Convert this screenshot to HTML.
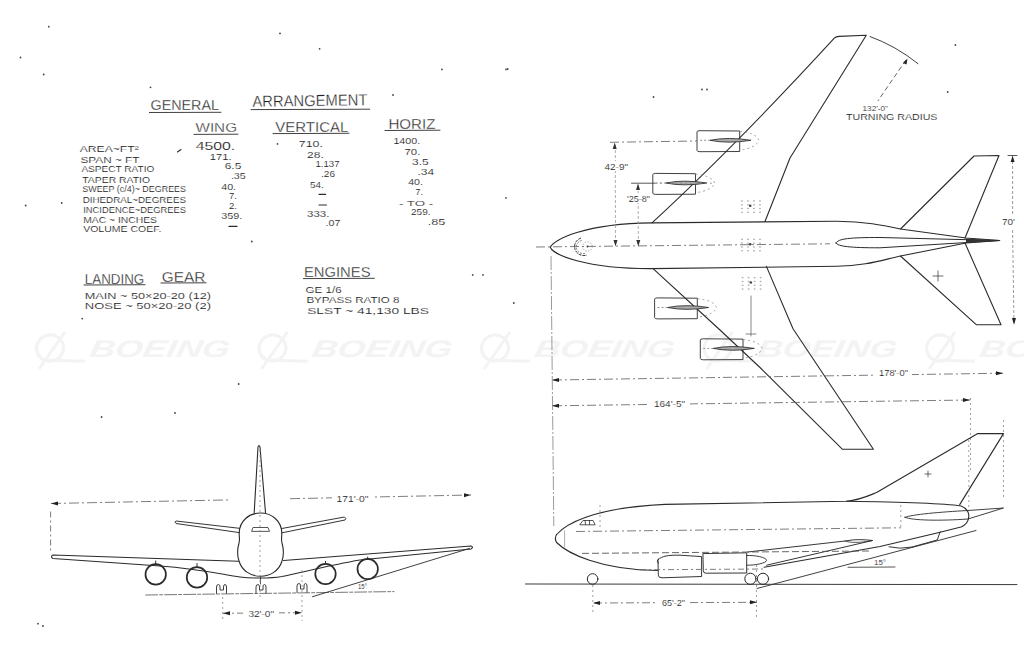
<!DOCTYPE html>
<html><head><meta charset="utf-8"><title>General Arrangement</title>
<style>
html,body{margin:0;padding:0;background:#fff;width:1024px;height:662px;overflow:hidden}
svg{display:block}
text{font-family:"Liberation Sans",sans-serif;fill:#222;stroke:#fff;stroke-width:0.12;paint-order:fill}
.ln{fill:none;stroke:#2b2b2b;stroke-width:1.1;stroke-linecap:round;stroke-linejoin:round}
.dd{fill:none;stroke:#666;stroke-width:0.85;stroke-dasharray:9 3 2 3}
.ds{fill:none;stroke:#555;stroke-width:0.9;stroke-dasharray:5 3}
.dt{fill:none;stroke:#888;stroke-width:0.8;stroke-dasharray:2 3}
.wm{fill:#f1f1f1}
</style></head>
<body>
<svg width="1024" height="662" viewBox="0 0 1024 662">
<rect width="1024" height="662" fill="#fff"/>

<!-- ============ WATERMARKS ============ -->
<defs>
<g id="blogo">
<ellipse cx="15" cy="17" rx="13.5" ry="13" fill="none" stroke="#f3f3f3" stroke-width="3.2" transform="rotate(-20 15 17)"/>
<path d="M30,1 L4,38" stroke="#f3f3f3" stroke-width="3" fill="none"/>
<path d="M14,29 Q30,30 50,30" stroke="#f3f3f3" stroke-width="3" fill="none"/>
<text x="58" y="26" font-family="Liberation Sans" font-weight="bold" font-style="italic" font-size="24" textLength="140" lengthAdjust="spacingAndGlyphs" style="fill:#f3f3f3" transform="skewX(-10)" >BOEING</text>
</g>
</defs>
<g id="wms">
<use href="#blogo" x="35" y="331"/>
<use href="#blogo" x="257.5" y="331"/>
<use href="#blogo" x="480" y="331"/>
<use href="#blogo" x="702.5" y="331"/>
<use href="#blogo" x="925" y="331"/>
</g>


<!-- ============ TEXT BLOCK ============ -->
<g id="txt">
<text style="stroke-width:0.3" x="150.5" y="110" font-size="15.4" textLength="68.5" lengthAdjust="spacingAndGlyphs">GENERAL</text>
<line class="ln" x1="149.4" y1="112.5" x2="221" y2="112.3" style="stroke-width:0.9"/>
<text style="stroke-width:0.3" x="252.5" y="107" font-size="16" textLength="115" transform="rotate(-0.9 252.5 107)" lengthAdjust="spacingAndGlyphs">ARRANGEMENT</text>
<line class="ln" x1="251" y1="109.6" x2="369.7" y2="109.2" style="stroke-width:0.9"/>
<text style="stroke-width:0.3" x="195.5" y="131.9" font-size="13.3" textLength="41.5" lengthAdjust="spacingAndGlyphs">WING</text>
<line class="ln" x1="194" y1="134.4" x2="238" y2="134.2" style="stroke-width:0.9"/>
<text style="stroke-width:0.3" x="275.3" y="131.5" font-size="15" textLength="73" lengthAdjust="spacingAndGlyphs">VERTICAL</text>
<line class="ln" x1="273" y1="133.6" x2="349" y2="133.3" style="stroke-width:0.9"/>
<text style="stroke-width:0.3" x="388.4" y="128.75" font-size="14.5" textLength="47" lengthAdjust="spacingAndGlyphs">HORIZ</text>
<line class="ln" x1="385" y1="130.5" x2="440" y2="130.2" style="stroke-width:0.9"/>

<g font-size="8.4">
<text x="79.7" y="152.2" textLength="59" lengthAdjust="spacingAndGlyphs">AREA~FT²</text>
<text x="80.5" y="162.8" textLength="59" lengthAdjust="spacingAndGlyphs">SPAN ~ FT</text>
<text x="81.4" y="172.3" textLength="73" lengthAdjust="spacingAndGlyphs">ASPECT  RATIO</text>
<text x="82.3" y="182.5" textLength="67.7" lengthAdjust="spacingAndGlyphs">TAPER  RATIO</text>
<text x="82.3" y="192.1" textLength="103.7" lengthAdjust="spacingAndGlyphs">SWEEP (c/4)~ DEGREES</text>
<text x="82.7" y="202.7" textLength="103.3" lengthAdjust="spacingAndGlyphs">DIHEDRAL~DEGREES</text>
<text x="83.2" y="213.2" textLength="102.8" lengthAdjust="spacingAndGlyphs">INCIDENCE~DEGREES</text>
<text x="83.2" y="222.9" textLength="73.8" lengthAdjust="spacingAndGlyphs">MAC  ~ INCHES</text>
<text x="83.2" y="232.2" textLength="78.2" lengthAdjust="spacingAndGlyphs">VOLUME  COEF.</text>
</g>
<g font-size="9.1">
<text x="195.7" y="150" font-size="10" textLength="39.6" lengthAdjust="spacingAndGlyphs">4500.</text>
<text x="209.8" y="159.6" textLength="21.9" lengthAdjust="spacingAndGlyphs">171.</text>
<text x="224.7" y="169.3" textLength="16.7" lengthAdjust="spacingAndGlyphs">6.5</text>
<text x="230.9" y="179" textLength="14.9" lengthAdjust="spacingAndGlyphs">.35</text>
<text x="221.2" y="189.5" textLength="14.9" lengthAdjust="spacingAndGlyphs">40.</text>
<text x="229" y="199.2" textLength="8" lengthAdjust="spacingAndGlyphs">7.</text>
<text x="229" y="208.8" textLength="8" lengthAdjust="spacingAndGlyphs">2.</text>
<text x="221.2" y="219.4" textLength="21.1" lengthAdjust="spacingAndGlyphs">359.</text>
<line class="ln" x1="229" y1="226.4" x2="237" y2="226.4"/>

<text x="298.8" y="147" textLength="24.1" lengthAdjust="spacingAndGlyphs">710.</text>
<text x="307.1" y="157.6" textLength="16.7" lengthAdjust="spacingAndGlyphs">28.</text>
<text x="315.4" y="166.9" textLength="24.2" lengthAdjust="spacingAndGlyphs">1.137</text>
<text x="321" y="176.7" textLength="14" lengthAdjust="spacingAndGlyphs">.26</text>
<text x="310" y="187.9" textLength="13.8" lengthAdjust="spacingAndGlyphs">54.</text>
<line class="ln" x1="319" y1="194.4" x2="325.6" y2="194.4"/>
<line class="ln" x1="319" y1="205" x2="326.5" y2="205"/>
<text x="307.1" y="216.6" textLength="22.3" lengthAdjust="spacingAndGlyphs">333.</text>
<text x="325.6" y="225.9" textLength="14.9" lengthAdjust="spacingAndGlyphs">.07</text>

<text x="393.4" y="144.3" textLength="26.9" lengthAdjust="spacingAndGlyphs">1400.</text>
<text x="404.5" y="154.5" textLength="15.8" lengthAdjust="spacingAndGlyphs">70.</text>
<text x="412" y="164.7" textLength="16.6" lengthAdjust="spacingAndGlyphs">3.5</text>
<text x="417.5" y="174.9" textLength="16.7" lengthAdjust="spacingAndGlyphs">.34</text>
<text x="408.2" y="185" textLength="14.8" lengthAdjust="spacingAndGlyphs">40.</text>
<text x="415.6" y="195.3" textLength="7.4" lengthAdjust="spacingAndGlyphs">7.</text>
<text x="398.9" y="205.5" font-size="8" textLength="34.3" lengthAdjust="spacingAndGlyphs">-  TO -</text>
<text x="411" y="214.8" textLength="19.5" lengthAdjust="spacingAndGlyphs">259.</text>
<text x="427.7" y="225" textLength="17.6" lengthAdjust="spacingAndGlyphs">.85</text>
</g>
<line class="ln" x1="177.5" y1="152" x2="181" y2="149.5"/>

<text style="stroke-width:0.3" x="84.8" y="283.8" font-size="15" textLength="59.4" lengthAdjust="spacingAndGlyphs">LANDING</text>
<line class="ln" x1="84" y1="285" x2="145" y2="284.7" style="stroke-width:0.9"/>
<text style="stroke-width:0.3" x="161.8" y="281.9" font-size="15" textLength="43.6" lengthAdjust="spacingAndGlyphs">GEAR</text>
<line class="ln" x1="161" y1="283" x2="206" y2="282.8" style="stroke-width:0.9"/>
<g font-size="9">
<text x="84.8" y="298.6" textLength="126.2" lengthAdjust="spacingAndGlyphs">MAIN  ~  50×20-20  (12)</text>
<text x="84.8" y="308.8" textLength="126.2" lengthAdjust="spacingAndGlyphs">NOSE  ~  50×20-20   (2)</text>
</g>
<text style="stroke-width:0.3" x="304" y="276.9" font-size="15" textLength="66.5" lengthAdjust="spacingAndGlyphs">ENGINES</text>
<line class="ln" x1="303.3" y1="278.6" x2="374.4" y2="278.3" style="stroke-width:0.9"/>
<g font-size="9">
<text x="305.6" y="293.3" textLength="36" lengthAdjust="spacingAndGlyphs">GE  1/6</text>
<text x="306.4" y="302.7" textLength="93" lengthAdjust="spacingAndGlyphs">BYPASS  RATIO  8</text>
<text x="307.2" y="313.6" textLength="121.8" lengthAdjust="spacingAndGlyphs">SLST  ~  41,130   LBS</text>
</g>
</g>


<!-- ============ PLAN VIEW ============ -->
<g id="plan">
<!-- fuselage -->
<path class="ln" d="M550.3,247.3 C553,240 585,223.5 651.3,222.9 L837,221.2 C865,221.5 882,225 900.5,229 L966,238 L999.8,240.5 L966,243 L900.5,256 C882,260 865,266 837,266.3 L651.3,268.6 C585,268.8 553,254.5 550.3,247.3 Z"/>
<!-- top wing -->
<path class="ln" d="M652,222.8 Q734.7,146.7 834.3,38.2 Q836,36.5 839,36.4 L866.3,35.2 L790,158 L765,221.5"/>
<!-- bottom wing -->
<path class="ln" d="M652.8,268.3 L720,330 L760,367.5 L842.5,449.3 L873.4,449.3 L793,328.7 L766.4,266.4"/>
<!-- top h-tail -->
<path class="ln" d="M900.5,229 L974,156 L999,155.5 L965,238"/>
<!-- bottom h-tail -->
<path class="ln" d="M900.5,256 L976.5,324.8 L1001,324.8 L965,243"/>
<!-- fin plan -->
<path class="ln" d="M836,243 C838,238.5 850,237.5 880,237.5 L999.8,240.5 L880,247.8 C850,247.8 838,246.5 836,243 Z" style="stroke-width:1"/>
<path d="M966,238.6 L999.8,240.5 L966,242.4 Z" fill="#333"/>
<!-- engines -->
<g id="eng">
<path class="ln" d="M697,131.5 Q697,130.7 700,130.7 L739.7,131 L739.7,151.5 L700,151.7 Q697,151.7 697,150.8 Z" style="stroke-width:0.9"/>
<path d="M710,140.3 Q728,136.6 751,140.3 Q728,144 710,140.3 Z" fill="#aaa" stroke="#333" stroke-width="0.9"/><line x1="700" y1="140.3" x2="710" y2="140.3" stroke="#777" stroke-width="0.8" stroke-dasharray="2 2"/>
<path class="dt" d="M739.7,131.5 Q756,133 759,140.3 Q756,148 739.7,150"/>
</g>
<g transform="translate(-44.2,42.7)">
<path class="ln" d="M697,131.5 Q697,130.7 700,130.7 L739.7,131 L739.7,151.5 L700,151.7 Q697,151.7 697,150.8 Z" style="stroke-width:0.9"/>
<path d="M710,140.3 Q728,136.6 751,140.3 Q728,144 710,140.3 Z" fill="#aaa" stroke="#333" stroke-width="0.9"/><line x1="700" y1="140.3" x2="710" y2="140.3" stroke="#777" stroke-width="0.8" stroke-dasharray="2 2"/>
<path class="dt" d="M739.7,131.5 Q756,133 759,140.3 Q756,148 739.7,150"/>
</g>
<g transform="translate(-42.4,167.2)">
<path class="ln" d="M697,131.5 Q697,130.7 700,130.7 L739.7,131 L739.7,151.5 L700,151.7 Q697,151.7 697,150.8 Z" style="stroke-width:0.9"/>
<path d="M710,140.3 Q728,136.6 751,140.3 Q728,144 710,140.3 Z" fill="#aaa" stroke="#333" stroke-width="0.9"/><line x1="700" y1="140.3" x2="710" y2="140.3" stroke="#777" stroke-width="0.8" stroke-dasharray="2 2"/>
<path class="dt" d="M739.7,131.5 Q756,133 759,140.3 Q756,148 739.7,150"/>
</g>
<g transform="translate(3.3,208.1)">
<path class="ln" d="M697,131.5 Q697,130.7 700,130.7 L739.7,131 L739.7,151.5 L700,151.7 Q697,151.7 697,150.8 Z" style="stroke-width:0.9"/>
<path d="M710,140.3 Q728,136.6 751,140.3 Q728,144 710,140.3 Z" fill="#aaa" stroke="#333" stroke-width="0.9"/><line x1="700" y1="140.3" x2="710" y2="140.3" stroke="#777" stroke-width="0.8" stroke-dasharray="2 2"/>
<path class="dt" d="M739.7,131.5 Q756,133 759,140.3 Q756,148 739.7,150"/>
</g>
<!-- centerline -->
<line class="dd" x1="536" y1="247" x2="830" y2="243.8"/>
<!-- nose radar -->
<path d="M581,238.1 A9.2,8.8 0 1 0 586.9,255.1" fill="none" stroke="#333" stroke-width="1" stroke-dasharray="3 1"/>
<path d="M581.6,240.5 A7.2,6.6 0 1 0 585.7,253.4" fill="none" stroke="#555" stroke-width="0.8" stroke-dasharray="2 1.2"/>
<circle cx="587.5" cy="246.5" r="4.7" fill="none" stroke="#777" stroke-width="0.7" stroke-dasharray="1.2 1.5"/>
<circle cx="587.5" cy="246.5" r="0.9" fill="#333"/>
<!-- dims -->
<line class="dd" x1="610" y1="142.3" x2="697" y2="141"/>
<line class="ln" x1="631.5" y1="183.2" x2="655" y2="183.2" style="stroke:#444;stroke-width:0.9"/><line class="dt" x1="655" y1="183.2" x2="712" y2="183.2" style="stroke:#888"/>
<line class="dt" x1="615.3" y1="145" x2="615.5" y2="245" style="stroke:#999;stroke-dasharray:3 2"/>
<line class="dt" x1="638.2" y1="186" x2="638.3" y2="245" style="stroke:#999;stroke-dasharray:3 2"/>
<path d="M612.7,149 L614.7,142.6 L616.7,149 Z M613.5,240 L615.5,246.5 L617.5,240 Z M636,190 L638,183.3 L640,190 Z M636.3,240 L638.3,246.5 L640.3,240 Z" fill="#333"/>
<rect x="603" y="161" width="26" height="10" fill="#fff"/>
<text x="604.5" y="170" font-size="9" textLength="23.5" lengthAdjust="spacingAndGlyphs">42-9"</text>
<rect x="626" y="193" width="25" height="10" fill="#fff"/>
<text x="627" y="202" font-size="9" textLength="23" lengthAdjust="spacingAndGlyphs">'25-8"</text>
<line class="dd" x1="551" y1="256" x2="553.8" y2="526" style="stroke:#888;stroke-dasharray:14 2 2 2"/>
<!-- 178 dim -->
<line class="dd" x1="553" y1="380" x2="1003" y2="373.2"/>
<path d="M552,380 L559,378 L559,382 Z M1003,373.2 L996,371.3 L996,375.3 Z" fill="#222"/>
<rect x="876" y="367" width="36" height="10" fill="#fff"/>
<text x="879" y="376" font-size="8.5" textLength="29" lengthAdjust="spacingAndGlyphs">178'-0"</text>
<!-- 164 dim -->
<line class="dd" x1="553" y1="405.8" x2="970" y2="400"/>
<path d="M552,405.8 L559,403.8 L559,407.8 Z M970,400 L963,398 L963,402 Z" fill="#222"/>
<rect x="650" y="398" width="40" height="10" fill="#fff"/>
<text x="654" y="407" font-size="8.5" textLength="31" lengthAdjust="spacingAndGlyphs">164'-5"</text>
<line class="dt" x1="970.5" y1="398" x2="970.5" y2="470"/>
<!-- 70 dim -->
<line class="dd" x1="1012.6" y1="156" x2="1012.6" y2="214" style="stroke:#888;stroke-dasharray:3 2"/>
<line class="dd" x1="1012.6" y1="230" x2="1014" y2="324.8" style="stroke:#888;stroke-dasharray:3 2"/>
<line class="ln" x1="1008" y1="155.5" x2="1017" y2="155.5" style="stroke-width:0.8"/>
<path d="M1010.6,162 L1012.6,155.7 L1014.6,162 Z M1012,318 L1014,324.8 L1016,318 Z" fill="#222"/>
<text x="1002" y="225" font-size="9" textLength="13" lengthAdjust="spacingAndGlyphs">70'</text>
<!-- turning radius -->
<path class="ln" d="M870,36.5 Q896,46 918,63.7" style="stroke-width:0.9"/>
<line class="ds" x1="906" y1="60" x2="877.8" y2="101"/>
<path d="M907.5,58.5 L903,63 L906.5,64.5 Z" fill="#222"/>
<text x="862.5" y="111" font-size="7.5" textLength="25.5" lengthAdjust="spacingAndGlyphs">132'-0"</text>
<text x="846" y="119.5" font-size="8.5" textLength="91.4" lengthAdjust="spacingAndGlyphs">TURNING   RADIUS</text>
<!-- centre dots on plan -->
<g fill="#aaa"><rect x="741.2" y="200.3" width="1.6" height="1.3"/><rect x="741.2" y="204.1" width="1.6" height="1.3"/><rect x="741.2" y="207.9" width="1.6" height="1.3"/><rect x="741.2" y="211.7" width="1.6" height="1.3"/><rect x="747.2" y="200.3" width="1.6" height="1.3"/><rect x="747.2" y="204.1" width="1.6" height="1.3"/><rect x="747.2" y="207.9" width="1.6" height="1.3"/><rect x="747.2" y="211.7" width="1.6" height="1.3"/><rect x="753.2" y="200.3" width="1.6" height="1.3"/><rect x="753.2" y="204.1" width="1.6" height="1.3"/><rect x="753.2" y="207.9" width="1.6" height="1.3"/><rect x="753.2" y="211.7" width="1.6" height="1.3"/><rect x="759.2" y="200.3" width="1.6" height="1.3"/><rect x="759.2" y="204.1" width="1.6" height="1.3"/><rect x="759.2" y="207.9" width="1.6" height="1.3"/><rect x="759.2" y="211.7" width="1.6" height="1.3"/><circle cx="750.2" cy="205.8" r="1.3" fill="#444"/></g>
<g fill="#aaa"><rect x="741.2" y="238.7" width="1.6" height="1.3"/><rect x="741.2" y="242.5" width="1.6" height="1.3"/><rect x="741.2" y="246.3" width="1.6" height="1.3"/><rect x="741.2" y="250.1" width="1.6" height="1.3"/><rect x="747.2" y="238.7" width="1.6" height="1.3"/><rect x="747.2" y="242.5" width="1.6" height="1.3"/><rect x="747.2" y="246.3" width="1.6" height="1.3"/><rect x="747.2" y="250.1" width="1.6" height="1.3"/><rect x="753.2" y="238.7" width="1.6" height="1.3"/><rect x="753.2" y="242.5" width="1.6" height="1.3"/><rect x="753.2" y="246.3" width="1.6" height="1.3"/><rect x="753.2" y="250.1" width="1.6" height="1.3"/><rect x="759.2" y="238.7" width="1.6" height="1.3"/><rect x="759.2" y="242.5" width="1.6" height="1.3"/><rect x="759.2" y="246.3" width="1.6" height="1.3"/><rect x="759.2" y="250.1" width="1.6" height="1.3"/><circle cx="750.2" cy="244.2" r="1.3" fill="#444"/></g>
<g fill="#aaa"><rect x="741.8" y="277.0" width="1.6" height="1.3"/><rect x="741.8" y="280.8" width="1.6" height="1.3"/><rect x="741.8" y="284.6" width="1.6" height="1.3"/><rect x="741.8" y="288.4" width="1.6" height="1.3"/><rect x="747.8" y="277.0" width="1.6" height="1.3"/><rect x="747.8" y="280.8" width="1.6" height="1.3"/><rect x="747.8" y="284.6" width="1.6" height="1.3"/><rect x="747.8" y="288.4" width="1.6" height="1.3"/><rect x="753.8" y="277.0" width="1.6" height="1.3"/><rect x="753.8" y="280.8" width="1.6" height="1.3"/><rect x="753.8" y="284.6" width="1.6" height="1.3"/><rect x="753.8" y="288.4" width="1.6" height="1.3"/><rect x="759.8" y="277.0" width="1.6" height="1.3"/><rect x="759.8" y="280.8" width="1.6" height="1.3"/><rect x="759.8" y="284.6" width="1.6" height="1.3"/><rect x="759.8" y="288.4" width="1.6" height="1.3"/><circle cx="750.8" cy="282.5" r="1.3" fill="#444"/></g>
<line class="ln" x1="751" y1="296" x2="751" y2="336" style="stroke-width:0.7;stroke:#555"/>
<line class="ln" x1="746" y1="334" x2="756" y2="334" style="stroke-width:0.7;stroke:#555"/>
<path class="ln" d="M933,276 L943,276 M938,271 L938,281" style="stroke-width:0.7"/>
</g>


<!-- ============ SIDE VIEW ============ -->
<g id="side">
<!-- fuselage top + fin -->
<path class="ln" d="M556.6,534.5 C565,525 590,508 665,504.4 L846.4,501.3 C860,500 868,496 876.6,492.5 L977.8,433.6 L1003.5,433.6 L959.7,504.6"/>
<!-- fuselage top continues to tail cone -->
<path class="ln" d="M846.4,501.3 C900,502 940,503 961,506 C967,508.5 969,512 968.8,516.6 C968.5,522 966,525 961,527 L937,533 L880,546.5 L764,567.2"/>
<path class="ln" d="M657.6,570.5 C600,570 567,553 556.6,542.5 Q554.2,538.5 556.6,534.5"/>
<path class="ln" d="M889,546.8 Q900,549.5 912,547 L937.2,540 L940.2,531.8" style="stroke-width:0.95"/>
<line class="ln" x1="564.6" y1="531" x2="564.6" y2="547" style="stroke:#888;stroke-width:0.7"/>
<!-- cockpit window -->
<path class="ln" d="M580,524.5 L583,520.5 L593,520.5 L595,524.5 Z M585,520.5 L585.5,524.5 M589.5,520.5 L589.5,524.5" style="stroke-width:0.8"/>
<!-- stab side -->
<path class="ln" d="M905,517.3 C912,514.5 940,512 968,510.5 L1003.5,508 L968,519 C940,521 912,520.5 905,517.3 Z" style="stroke-width:0.9"/>
<!-- wing side -->
<path class="ln" d="M747.8,552 L845,541 C855,539 865,539.5 872.5,540.5 L766.6,565.2" style="stroke-width:0.95"/>
<path class="ln" d="M845,541 C850,543 860,543 872.5,540.5" style="stroke-width:0.8"/>
<!-- tail strike line -->
<line class="ln" x1="757" y1="588.5" x2="976" y2="530.5" style="stroke-width:0.9"/>
<line class="ln" x1="848" y1="567.3" x2="895" y2="567" style="stroke-width:0.8"/>
<text x="874" y="565" font-size="7.5" textLength="12" lengthAdjust="spacingAndGlyphs">15°</text>
<!-- engines side -->
<path class="ln" d="M658.3,559.5 C662,556 668,555 680,555.2 L701.6,556.6 L701.6,576.5 L662,577.8 Q658.3,577.8 658.3,575.5 Z" style="stroke-width:0.95"/>
<path class="ln" d="M703.3,553.6 L746.7,552.8 L746.7,573 L706,573.2 Q703.3,573.2 703.3,571 Z" style="stroke-width:0.95"/>
<path class="ln" d="M746.7,555.5 C755,555 766.6,557.5 766.6,560.3 C766.6,563 755,565.5 746.7,565.2" style="stroke-width:0.9"/>
<path class="ln" d="M658.3,558.8 Q655.8,561 658.3,563.5" style="stroke-width:0.9"/>
<line class="ds" x1="582" y1="553.4" x2="870" y2="551" style="stroke-dasharray:7 3"/>
<line class="dd" x1="576" y1="531.5" x2="900.8" y2="527.8"/>
<line class="dt" x1="900.8" y1="505" x2="900.8" y2="527.8"/>
<line class="dd" x1="640" y1="569.8" x2="765" y2="569" style="stroke-dasharray:6 3 2 3"/>
<line class="dt" x1="968.8" y1="440" x2="968.8" y2="510"/>
<line class="dt" x1="1003.5" y1="420" x2="1003.5" y2="500"/>
<line class="dt" x1="600" y1="505" x2="600" y2="530"/>
<!-- ground -->
<line class="ln" x1="525.5" y1="584" x2="1017" y2="584.6" style="stroke-width:1;stroke:#3a3a3a"/>
<circle class="ln" cx="592.6" cy="579" r="5.3" style="stroke-width:1"/>
<circle class="ln" cx="750.4" cy="578.8" r="5.6" style="stroke-width:1"/>
<circle class="ln" cx="763" cy="578.8" r="5.6" style="stroke-width:1"/>
<line class="dt" x1="756.5" y1="565" x2="756.5" y2="618"/>
<line class="dt" x1="592.8" y1="585" x2="592.8" y2="612"/>
<line class="dd" x1="594" y1="603" x2="757" y2="602.3" style="stroke-dasharray:8 3 2 3"/>
<path d="M593,603 L600,601 L600,605 Z M757,602.3 L750,600.3 L750,604.3 Z" fill="#222"/>
<rect x="657" y="596" width="32" height="11" fill="#fff"/>
<text x="662" y="605.5" font-size="8.5" textLength="23" lengthAdjust="spacingAndGlyphs">65'-2"</text>
<path class="ln" d="M925,474 L931,474 M928,471 L928,477" style="stroke-width:0.7"/>
</g>

<!-- ============ FRONT VIEW ============ -->
<g id="front">
<!-- fin -->
<path class="ln" d="M254.2,512.5 L258,447 Q259,444 260,447 L265.5,512.5"/>
<!-- fuselage -->
<path class="ln" d="M260.5,513 C272,513 281.5,521 281.8,533 C281.8,538 281,540 282,543 C284,550 284,555 282,561 C279,571 270,576.3 260.5,576.3 C251,576.3 242,571 239,561 C237,555 237,550 239,543 C240,540 239.2,538 239.2,533 C239.5,521 249,513 260.5,513 Z"/>
<!-- windshield -->
<path class="ln" d="M251.7,531 L253,527.5 L268,527.5 L269.4,531 Z" style="stroke-width:0.8"/>
<!-- stabs -->
<path class="ln" d="M239.5,528.3 L176,521 Q174,522 176,523.5 L239.3,532.6" style="stroke-width:0.95"/>
<path class="ln" d="M281.8,528.5 L344.5,517 Q347,518.5 345,520 L282,532.8" style="stroke-width:0.95"/>
<!-- wings -->
<path class="ln" d="M238.5,561.2 L53,555 Q50,556.5 53,558.5 L160,566 C200,569 220,574 240,577 C250,578.5 270,578.5 282,576.5 C300,573 330,565 360,560 L471,549 Q474,547 471,546 L283.5,560.5"/>
<!-- engines -->
<circle class="ln" cx="155.7" cy="574.4" r="10.2" style="stroke-width:1.7"/>
<circle class="ln" cx="197" cy="577.4" r="10.2" style="stroke-width:1.7"/>
<circle class="ln" cx="325.5" cy="574" r="10.2" style="stroke-width:1.7"/>
<circle class="ln" cx="367.7" cy="569" r="10.2" style="stroke-width:1.7"/>
<path class="ln" d="M155.7,564 L155.7,561 M197,567 L197,563.5 M325.5,563.6 L325.5,561.5 M367.7,558.7 L367.7,557" style="stroke-width:1"/>
<!-- gear -->
<path class="ln" d="M219.5,593.5 L219.5,587 Q219.5,584.5 221.5,584.5 Q223,584.5 223,587 L223,590 L226.5,590 L226.5,587 Q226.5,584.5 228,584.5 Q229.5,584.5 229.5,587 L229.5,593.5" style="stroke-width:0.9" transform="translate(-3,0)"/>
<path class="ln" d="M219.5,593.5 L219.5,587 Q219.5,584.5 221.5,584.5 Q223,584.5 223,587 L223,590 L226.5,590 L226.5,587 Q226.5,584.5 228,584.5 Q229.5,584.5 229.5,587 L229.5,593.5" style="stroke-width:0.9" transform="translate(36.5,0)"/>
<path class="ln" d="M219.5,593.5 L219.5,587 Q219.5,584.5 221.5,584.5 Q223,584.5 223,587 L223,590 L226.5,590 L226.5,587 Q226.5,584.5 228,584.5 Q229.5,584.5 229.5,587 L229.5,593.5" style="stroke-width:0.9" transform="translate(77.5,-1)"/>
<line class="ln" x1="260.5" y1="576.5" x2="260.5" y2="584" style="stroke-width:0.8"/>
<!-- ground -->
<line class="ln" x1="145.7" y1="595" x2="394" y2="591.6" style="stroke-width:0.9;stroke:#666;stroke-dasharray:12 2 3 2"/>
<line class="ln" x1="312.5" y1="596.7" x2="469.5" y2="548.4" style="stroke-width:0.9"/>
<text x="358" y="589" font-size="6.5" textLength="9" lengthAdjust="spacingAndGlyphs">15°</text>
<line class="dt" x1="260" y1="450" x2="260" y2="600"/>
<!-- 171 dim -->
<line class="dd" x1="51" y1="503.5" x2="229" y2="499.9" style="stroke-dasharray:10 3 2 3"/>
<line class="dd" x1="290" y1="498.7" x2="471" y2="495" style="stroke-dasharray:10 3 2 3"/>
<path d="M51,503.5 L58,501.6 L58,505.6 Z M471,495 L464,493.2 L464,497.2 Z" fill="#222"/>
<rect x="332" y="492" width="41" height="11" fill="#fff"/>
<text x="336.6" y="501.5" font-size="8.5" textLength="31.8" lengthAdjust="spacingAndGlyphs">171'-0"</text>
<line class="dd" x1="50.6" y1="511.5" x2="50.6" y2="551" style="stroke-dasharray:6 3 2 3"/>
<!-- 32 dim -->
<line class="dt" x1="222.7" y1="597" x2="222.7" y2="621"/>
<line class="dt" x1="302" y1="570" x2="302" y2="621"/>
<line class="dd" x1="223" y1="613.3" x2="302" y2="612.7" style="stroke-dasharray:6 3 2 3"/>
<path d="M223,613.3 L230,611.3 L230,615.3 Z M302,612.7 L295,610.7 L295,614.7 Z" fill="#222"/>
<rect x="245" y="607" width="33" height="11" fill="#fff"/>
<text x="248.4" y="616.5" font-size="8.5" textLength="25.6" lengthAdjust="spacingAndGlyphs">32'-0"</text>
</g>

<g fill="#444"><circle cx="48.8" cy="26.7" r="0.9"/><circle cx="20.5" cy="57.5" r="0.9"/><circle cx="43.7" cy="74.5" r="0.9"/><circle cx="150.5" cy="87.3" r="0.9"/><circle cx="280" cy="33.4" r="0.9"/><circle cx="319.6" cy="48.8" r="0.9"/><circle cx="441.9" cy="69.4" r="0.9"/><circle cx="393" cy="95" r="0.9"/><circle cx="506" cy="69.4" r="0.9"/><circle cx="25.7" cy="205.5" r="0.9"/><circle cx="61.7" cy="203" r="0.9"/><circle cx="506" cy="197.8" r="0.9"/><circle cx="472.7" cy="274.9" r="0.9"/><circle cx="483" cy="274.9" r="0.9"/><circle cx="513.8" cy="303" r="0.9"/><circle cx="82.2" cy="318.6" r="0.9"/><circle cx="251.8" cy="241.5" r="0.9"/><circle cx="277.5" cy="143.9" r="0.9"/><circle cx="101.6" cy="417" r="0.9"/><circle cx="238.7" cy="384" r="0.9"/><circle cx="175" cy="413" r="0.9"/><circle cx="38" cy="623.7" r="0.9"/><circle cx="43" cy="626" r="0.9"/><circle cx="507.7" cy="69" r="0.9"/><circle cx="702" cy="89.5" r="0.9"/><circle cx="707" cy="89.5" r="0.9"/><circle cx="955.4" cy="45" r="0.9"/><circle cx="947.7" cy="92" r="0.9"/><circle cx="653.5" cy="97" r="0.9"/></g>
</svg>
</body></html>
